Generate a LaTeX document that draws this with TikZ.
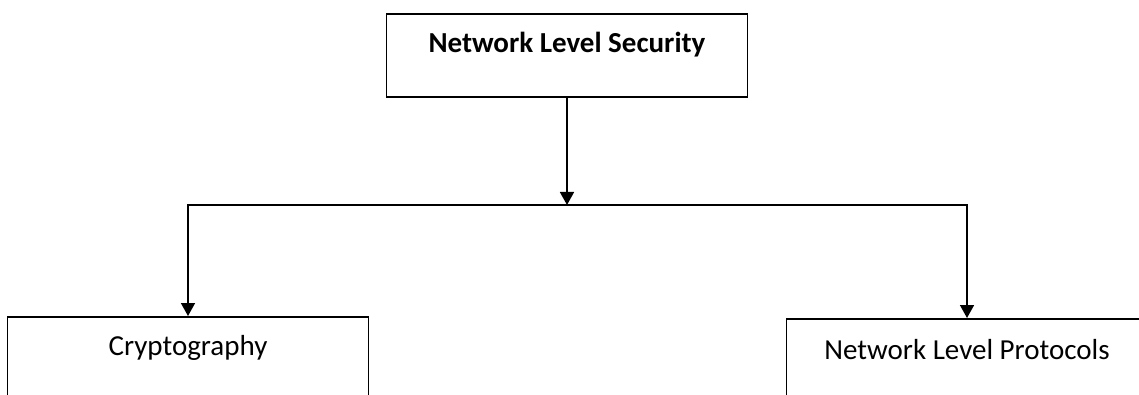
\documentclass[tikz,border=0pt]{standalone}
\usepackage{fontspec}
\setmainfont{Carlito}
\usetikzlibrary{arrows.meta}

\begin{document}
\begin{tikzpicture}[x=1pt,y=-1pt,>={Triangle[width=14pt,length=13pt]},line width=1.6pt,
    block/.style={draw,rectangle,anchor=north,minimum width=361pt,inner xsep=0pt,inner ysep=0pt,
        text height=39pt,font=\fontsize{29}{34}\selectfont}]
        \useasboundingbox (0,0) rectangle (1139,395);
        \clip (0,0) rectangle (1139,395);
        \node[block,text depth=44pt,font=\fontsize{29}{34}\selectfont\bfseries] (nls) at (567,13) {Network Level Security};
        \node[block,text depth=120pt] (crypto) at (188,316) {Cryptography};
        \node[block,text depth=120pt,text height=41pt] (proto) at (967,318) {Network Level Protocols};
        \coordinate (split) at (567,205);
        \draw[->] (nls.south) -- (split);
        \draw[->] (split) -| (crypto.north);
        \draw[->] (split) -| (proto.north);
    \end{tikzpicture}
\end{document}
